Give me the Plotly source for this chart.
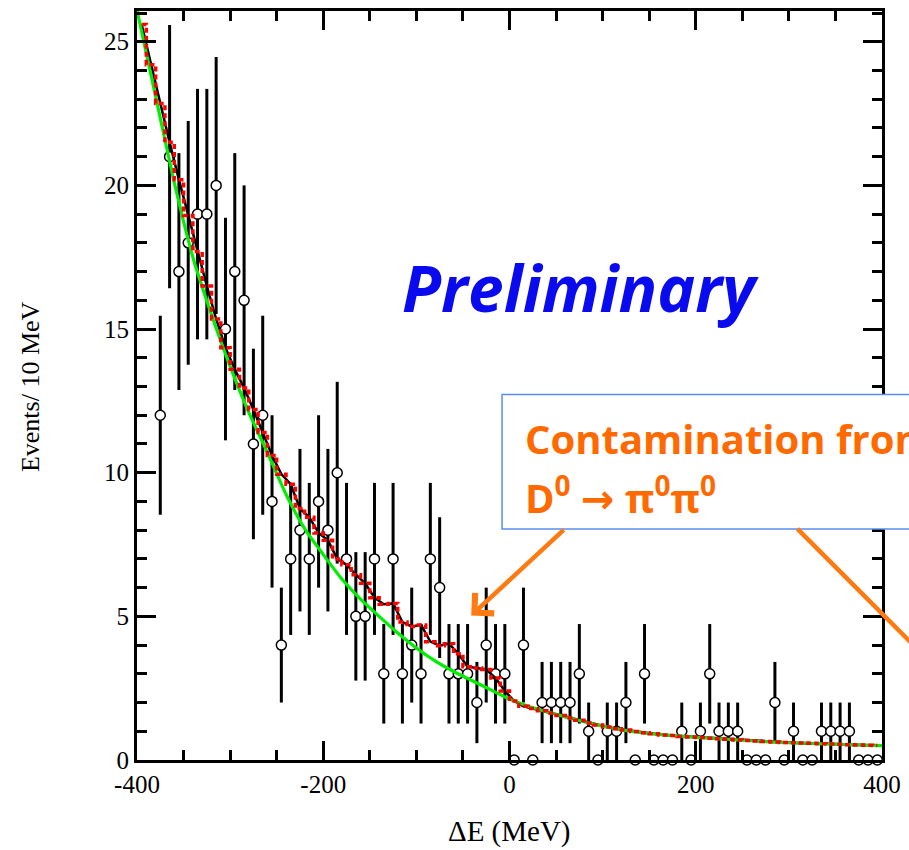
import numpy as np
import plotly.graph_objects as go

# Measured events per 10 MeV bin (bin centres in MeV)
bin_centers = np.arange(-375, 400, 10)
counts = [12, 21, 17, 18, 19, 19, 20, 15, 17, 16,
          11, 12, 9, 4, 7, 8, 7, 9, 8, 10,
          7, 5, 5, 7, 3, 7, 3, 4, 3, 7,
          6, 3, 3, 3, 2, 4, 3, 3, 0, 4,
          0, 2, 2, 2, 2, 3, 1, 0, 1, 1,
          2, 0, 3, 0, 0, 0, 1, 0, 1, 3,
          1, 1, 1, 0, 0, 0, 2, 0, 1, 0,
          0, 1, 1, 1, 1, 0, 0, 0]

# Total fit (contamination + background), per bin
fit_x = np.arange(-395, 400, 10)
fit_total = [25.6, 24.2, 22.85, 21.5, 20.2, 18.95, 17.7, 16.5, 15.35, 14.35,
             13.6, 12.95, 12.2, 11.4, 10.6, 9.95, 9.6, 8.75, 8.45, 7.9,
             7.65, 7.0, 6.8, 6.45, 6.15, 5.65, 5.42, 5.45, 4.8, 4.65,
             4.7, 4.12, 3.98, 4.05, 3.7, 3.25, 3.2, 3.15, 2.85, 2.4,
             2.05, 1.87, 1.79, 1.71, 1.63, 1.55, 1.46, 1.38, 1.29, 1.22,
             1.15, 1.09, 1.04, 0.99, 0.95, 0.91, 0.87, 0.85, 0.82, 0.80,
             0.78, 0.76, 0.74, 0.72, 0.70, 0.68, 0.66, 0.64, 0.625, 0.61,
             0.60, 0.59, 0.58, 0.565, 0.555, 0.545, 0.535, 0.525, 0.515, 0.505]

# Smooth background component
bkg_x = np.arange(-400, 401, 20)
bkg = [26.1, 23.1, 20.1, 17.5, 15.5, 13.7, 12.1, 10.7, 9.25, 8.05,
       7.15, 6.3, 5.6, 5.0, 4.42, 3.9, 3.45, 3.08, 2.76, 2.44,
       2.12, 1.87, 1.68, 1.5, 1.33, 1.18, 1.06, 0.96, 0.89, 0.84,
       0.79, 0.75, 0.71, 0.67, 0.63, 0.6, 0.58, 0.56, 0.54, 0.52, 0.5]

x_ticks = [-400, -200, 0, 200, 400]
x_ticktext = ["-400", "-200", "0", "200", "400"]
y_ticks = [0, 5, 10, 15, 20, 25]
y_ticktext = ["0", "5", "10", "15", "20", "25"]

W, H = 909, 850
L, R, T, B = 137, 23, 8, 90
pw, ph = W - L - R, H - T - B


def px(x):
    return (x - L) / pw


def py(y):
    return (H - B - y) / ph


fig = go.Figure()

fig.add_trace(go.Scatter(
    x=bin_centers, y=counts, mode="markers",
    marker=dict(size=10, color="white", line=dict(color="black", width=1.5)),
    error_y=dict(type="data", array=np.sqrt(counts), color="black",
                 thickness=3, width=0),
    cliponaxis=False, showlegend=False))

fig.add_trace(go.Scatter(
    x=fit_x, y=fit_total, mode="lines",
    line=dict(color="black", width=2.5), showlegend=False))

fig.add_trace(go.Scatter(
    x=bkg_x, y=bkg, mode="lines",
    line=dict(color="#00ee00", width=3.2, shape="spline", smoothing=0.6),
    showlegend=False))

fig.add_trace(go.Scatter(
    x=fit_x, y=fit_total, mode="lines",
    line=dict(color="#ff0000", width=3.5, shape="hvh", dash="5px,3px"),
    showlegend=False))

tickfont = dict(family="Liberation Serif", size=25, color="black")

fig.update_xaxes(
    range=[-400, 400], tickmode="array", tickvals=x_ticks, ticktext=x_ticktext,
    ticks="inside", ticklen=19, tickwidth=2.5, tickcolor="black",
    minor=dict(tickmode="linear", tick0=-400, dtick=50, ticks="inside",
               ticklen=10, tickwidth=2.5, tickcolor="black", showgrid=False),
    showline=True, linewidth=3, linecolor="black", mirror="allticks",
    showgrid=False, zeroline=False, tickfont=tickfont)

fig.update_yaxes(
    range=[0, 26.07], tickmode="array", tickvals=y_ticks, ticktext=y_ticktext,
    ticks="inside", ticklen=19, tickwidth=2.5, tickcolor="black",
    minor=dict(tickmode="linear", tick0=0, dtick=1, ticks="inside",
               ticklen=10, tickwidth=2.5, tickcolor="black", showgrid=False),
    showline=True, linewidth=3, linecolor="black", mirror="allticks",
    showgrid=False, zeroline=False, tickfont=tickfont)

orange_text = "#ff6a00"
orange_line = "#ff7a10"

# Callout box for the contamination label
fig.add_shape(type="rect", xref="paper", yref="paper",
              x0=px(504), x1=px(960), y0=py(528), y1=py(393),
              line=dict(color="#5a8ef0", width=1.5), fillcolor="white",
              layer="above")
# Second pointer leaving the box towards the right-hand edge
fig.add_shape(type="line", xref="paper", yref="paper",
              x0=px(801), y0=py(528), x1=px(945), y1=py(672),
              line=dict(color=orange_line, width=4.5), layer="above")

decay_label = ("<b>D<sup>0</sup> <span style=\"font-family:'DejaVu Sans'\">→</span> "
               "π<sup>0</sup>π<sup>0</sup></b>")

annotations = [
    dict(text="ΔE (MeV)", x=px(512), y=py(832), xref="paper", yref="paper",
         showarrow=False, font=dict(family="Liberation Serif", size=29, color="black"),
         xanchor="center", yanchor="middle"),
    dict(text="Events/ 10 MeV", x=px(30), y=py(385), xref="paper", yref="paper",
         showarrow=False, textangle=-90,
         font=dict(family="Liberation Serif", size=26, color="black"),
         xanchor="center", yanchor="middle"),
    dict(text="<b><i>Preliminary</i></b>", x=px(583), y=py(286),
         xref="paper", yref="paper", showarrow=False,
         font=dict(family="Open Sans", size=64, color="#0a0aee"),
         xanchor="center", yanchor="middle"),
    dict(text="<b>Contamination from</b>", x=px(525), y=py(437),
         xref="paper", yref="paper", showarrow=False,
         font=dict(family="Open Sans", size=40, color=orange_text),
         xanchor="left", yanchor="middle"),
    dict(text=decay_label, x=px(525), y=py(494),
         xref="paper", yref="paper", showarrow=False,
         font=dict(family="Open Sans", size=40, color=orange_text),
         xanchor="left", yanchor="middle"),
    dict(text="", x=px(473), y=py(615), xref="paper", yref="paper",
         showarrow=True, ax=94, ay=-87, arrowhead=4, arrowsize=1.2,
         arrowwidth=4.5, arrowcolor=orange_line, standoff=0),
]

fig.update_layout(
    width=W, height=H,
    margin=dict(l=L, r=R, t=T, b=B),
    paper_bgcolor="white", plot_bgcolor="white",
    annotations=annotations,
    showlegend=False)

fig.write_html("out.html")
